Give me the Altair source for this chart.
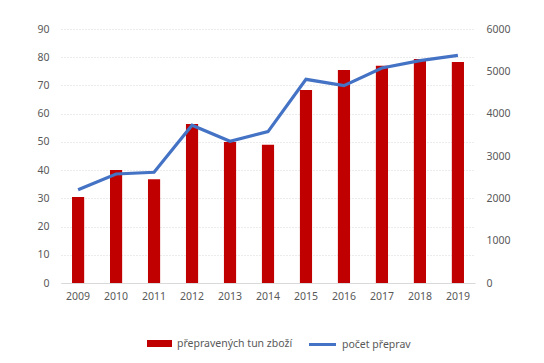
import altair as alt
import pandas as pd

years = ["2009", "2010", "2011", "2012", "2013", "2014", "2015", "2016", "2017", "2018", "2019"]
tons = [30.5, 40.0, 36.8, 56.3, 50.0, 49.0, 68.4, 75.5, 77.0, 79.4, 78.3]
trips = [2204, 2575, 2615, 3725, 3347, 3575, 4811, 4662, 5079, 5252, 5378]
bar_label = "přepravených tun zboží"
line_label = "počet přeprav"
left_ticks = [0, 10, 20, 30, 40, 50, 60, 70, 80, 90]
right_ticks = [0, 1000, 2000, 3000, 4000, 5000, 6000]

df = pd.DataFrame({"rok": years, "tun": tons, "prepravy": trips,
                   "s1": bar_label, "s2": line_label})

FONT = "Noto Sans"
GRAY = "#595959"

x = alt.X("rok:N", title=None,
          scale=alt.Scale(paddingInner=0.68, paddingOuter=0.29),
          axis=alt.Axis(labelAngle=0, ticks=False, domainColor="#D9D9D9",
                        labelPadding=8, labelColor=GRAY, labelFontSize=10.5, labelFont=FONT))

bars = alt.Chart(df).mark_bar(color="#C00000").encode(
    x=x,
    y=alt.Y("tun:Q", title=None, scale=alt.Scale(domain=[0, 90]),
            axis=alt.Axis(values=left_ticks, ticks=False, domain=False,
                          gridColor="#D9D9D9", gridDash=[1, 2], labelPadding=12,
                          labelColor=GRAY, labelFontSize=10.5, labelFont=FONT)),
    color=alt.Color("s1:N", title=None,
                    scale=alt.Scale(domain=[bar_label], range=["#C00000"]),
                    legend=alt.Legend(orient="none", legendX=85, legendY=301,
                                      symbolType="M-1,-0.28H1V0.28H-1Z",
                                      symbolSize=625, symbolOpacity=1, padding=0,
                                      labelColor=GRAY, labelFontSize=10.5, labelFont=FONT)),
)

line = alt.Chart(df).mark_line(color="#4472C4", strokeWidth=3.2).encode(
    x=x,
    y=alt.Y("prepravy:Q", title=None, scale=alt.Scale(domain=[0, 6000]),
            axis=alt.Axis(orient="right", values=right_ticks, ticks=False, domain=False,
                          grid=False, labelPadding=11, format="d",
                          labelColor=GRAY, labelFontSize=10.5, labelFont=FONT)),
    stroke=alt.Stroke("s2:N", title=None,
                      scale=alt.Scale(domain=[line_label], range=["#4472C4"]),
                      legend=alt.Legend(orient="none", legendX=246, legendY=300,
                                        symbolType="stroke", padding=0,
                                        symbolStrokeWidth=3, symbolSize=730,
                                        labelColor=GRAY, labelFontSize=10.5, labelFont=FONT)),
)

chart = alt.layer(bars, line).resolve_scale(y="independent", color="independent").properties(
    width=414, height=254,
    padding={"left": 28, "top": 16, "right": 5, "bottom": 5},
).configure_view(stroke=None)

chart.save("out.html", embed_options={"renderer": "svg", "actions": False})
